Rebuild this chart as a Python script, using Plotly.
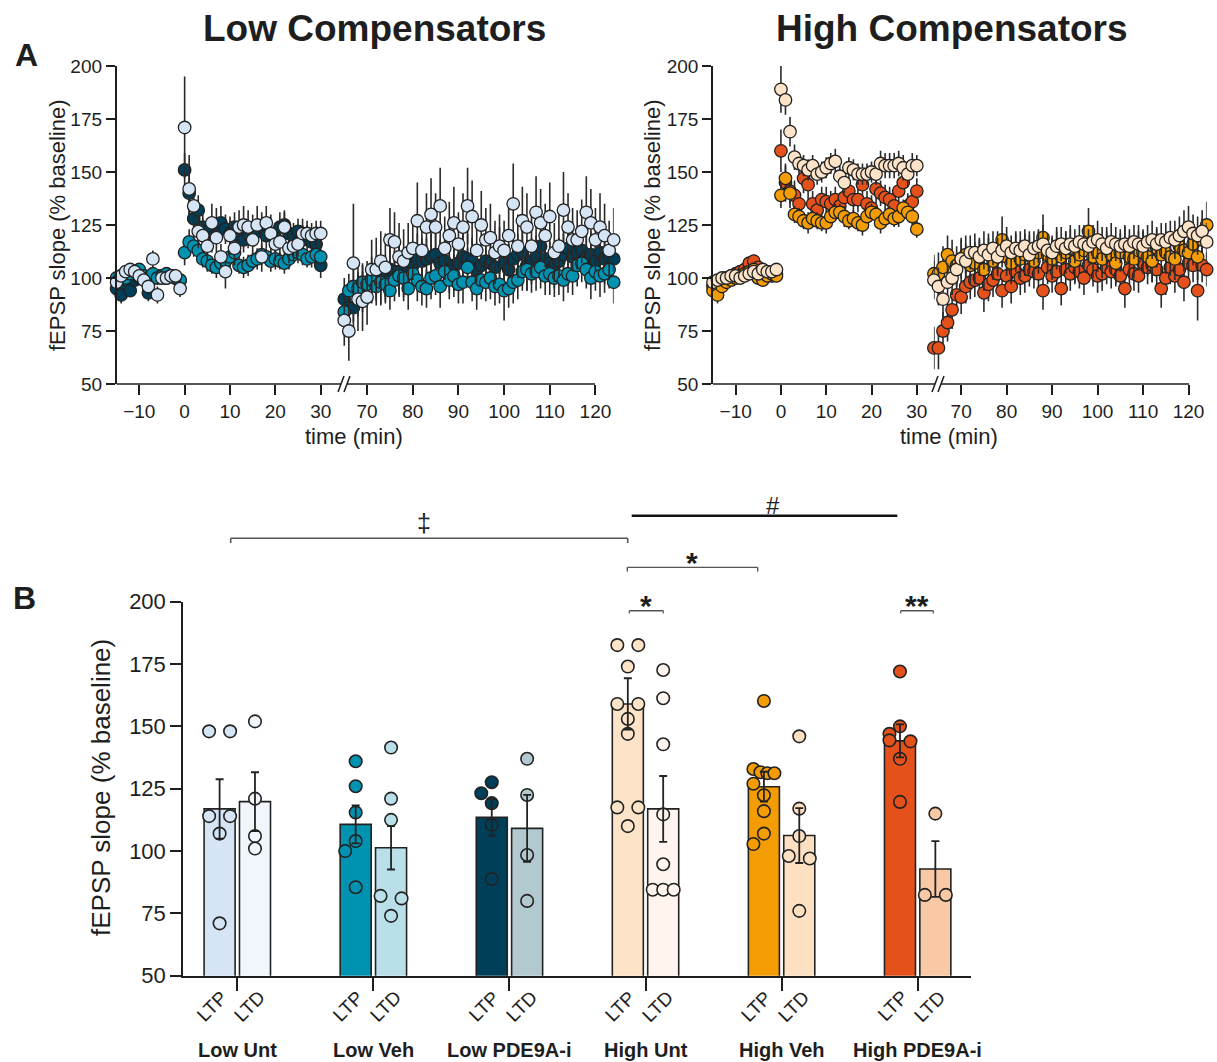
import plotly.graph_objects as go

W, H = 1217, 1062
def PX(x): return x / W
def PY(y): return 1 - y / H

FONT = "Liberation Sans, Arial, Helvetica, sans-serif"
INK = "#1e1e1e"

# ---------------- Panel A data (t = -15..30 'early', post-LFS 'late') ----------------
EARLY_START = -15
LEFT_LATE_START = 65
RIGHT_LATE_START = 64

low_unt_early = [98, 101, 103, 104, 103, 101, 99, 96, 109, 92, 100, 100, 101, 101, 95,
                 171, 142, 134, 122, 120, 115, 126, 119, 110, 103, 120, 114, 124, 125, 124, 118,
                 125, 110, 126, 121, 116, 117, 124, 114, 115, 116, 121, 121, 120, 121, 121]
low_unt_early_sem = [3, 3, 3, 3, 3, 3, 4, 4, 4, 4, 3, 3, 3, 3, 4,
                     24, 16, 10, 8, 8, 7, 9, 7, 6, 8, 9, 8, 8, 9, 8, 7,
                     9, 7, 8, 9, 8, 7, 8, 7, 7, 6, 7, 6, 6, 6, 6]
low_unt_late = [80, 75, 107, 90, 89, 91, 104, 104, 108, 105,
                118, 117, 110, 108, 112, 114, 127, 113, 124, 130,
                124, 134, 114, 120, 126, 116, 124, 134, 129, 113,
                125, 118, 119, 112, 115, 113, 120, 135, 115, 127,
                124, 115, 131, 126, 120, 129, 112, 115, 132, 124,
                118, 118, 122, 131, 126, 118, 124, 120, 113, 118]
low_unt_late_sem = [12, 14, 28, 15, 14, 13, 14, 15, 14, 16,
                    15, 14, 16, 15, 14, 15, 18, 15, 16, 17,
                    16, 18, 15, 16, 17, 15, 16, 18, 17, 15,
                    16, 15, 16, 15, 15, 14, 16, 19, 15, 16,
                    16, 15, 17, 16, 15, 16, 14, 15, 18, 16,
                    15, 14, 15, 17, 16, 15, 16, 15, 14, 15]

low_veh_early = [100, 101, 100, 102, 103, 104, 101, 100, 102, 100, 101, 102, 101, 100, 99,
                 112, 117, 115, 113, 109, 108, 106, 105, 107, 108, 110, 112, 106, 105, 106, 108,
                 109, 111, 110, 108, 109, 108, 107, 109, 111, 112, 111, 109, 110, 111, 110]
low_veh_early_sem = [2, 2, 3, 2, 2, 2, 3, 2, 2, 2, 3, 2, 2, 2, 2,
                     6, 6, 5, 5, 4, 5, 4, 5, 5, 4, 5, 5, 4, 5, 5, 4,
                     5, 5, 4, 5, 5, 4, 5, 5, 4, 5, 5, 4, 5, 5, 4]
low_veh_late = [84, 94, 96, 95, 98, 97, 99, 96, 98, 97,
                94, 99, 101, 100, 95, 102, 99, 96, 95, 100,
                101, 96, 103, 99, 101, 97, 98, 105, 98, 95,
                99, 98, 100, 96, 97, 94, 95, 98, 99, 103,
                104, 102, 103, 105, 101, 102, 100, 101, 99, 102,
                101, 106, 107, 104, 100, 103, 101, 102, 104, 98]
low_veh_late_sem = [9, 8, 9, 8, 9, 9, 8, 9, 10, 9,
                    9, 10, 9, 9, 10, 9, 10, 9, 9, 10,
                    9, 10, 9, 9, 10, 9, 10, 9, 9, 10,
                    9, 9, 10, 9, 9, 14, 9, 10, 9, 9,
                    10, 9, 9, 10, 9, 10, 9, 9, 10, 9,
                    9, 10, 9, 9, 10, 9, 10, 9, 9, 10]

low_pde_early = [95, 92, 97, 94, 99, 100, 101, 93, 100, 101, 101, 100, 101, 100, 99,
                 151, 140, 128, 132, 124, 122, 119, 125, 126, 123, 121, 124, 120, 118, 121, 123,
                 122, 124, 120, 121, 119, 124, 125, 121, 120, 122, 118, 119, 117, 116, 106]
low_pde_early_sem = [3, 4, 3, 3, 3, 3, 3, 4, 3, 3, 3, 3, 3, 3, 3,
                     8, 10, 8, 7, 7, 6, 7, 8, 8, 7, 6, 7, 7, 6, 7, 7,
                     6, 7, 6, 6, 7, 7, 6, 6, 6, 6, 7, 6, 6, 6, 6]
low_pde_late = [90, 86, 86, 92, 95, 98, 99, 100, 98, 101,
                104, 103, 103, 100, 104, 106, 109, 108, 109, 110,
                111, 107, 108, 104, 106, 107, 110, 109, 108, 104,
                106, 108, 107, 105, 113, 107, 104, 109, 111, 112,
                106, 108, 110, 115, 109, 107, 106, 108, 111, 114,
                110, 112, 113, 110, 111, 108, 112, 109, 110, 109]
low_pde_late_sem = [10, 11, 12, 10, 11, 10, 11, 10, 11, 10,
                    11, 10, 12, 11, 10, 11, 12, 11, 10, 11,
                    12, 11, 10, 11, 12, 10, 11, 12, 11, 10,
                    11, 12, 10, 11, 11, 10, 12, 11, 10, 11,
                    12, 11, 10, 11, 12, 10, 11, 11, 10, 12,
                    11, 10, 11, 12, 11, 10, 11, 12, 11, 10]

high_unt_early = [98, 99, 100, 100, 101, 101, 100, 101, 102, 103, 102, 104, 103, 103, 104,
                  189, 184, 169, 157, 154, 153, 151, 153, 149, 150, 152, 154, 155, 148, 145, 152,
                  151, 149, 149, 149, 150, 149, 154, 153, 153, 153, 154, 152, 149, 153, 153]
high_unt_early_sem = [3, 2, 2, 3, 2, 2, 3, 2, 2, 3, 2, 2, 3, 2, 2,
                      11, 7, 7, 6, 5, 5, 5, 5, 5, 5, 5, 5, 6, 5, 5, 5,
                      5, 5, 5, 5, 5, 5, 6, 6, 6, 6, 6, 6, 6, 6, 5]
high_unt_late = [99, 96, 90, 98, 100, 104, 109, 108, 112, 112,
                 110, 113, 111, 114, 110, 113, 115, 112, 114, 113,
                 115, 111, 114, 115, 116, 113, 112, 115, 116, 114,
                 116, 115, 117, 116, 115, 117, 118, 116, 114, 117,
                 116, 115, 116, 115, 117, 116, 115, 117, 118, 116,
                 118, 117, 119, 118, 120, 122, 124, 121, 120, 122, 117]
high_unt_late_sem = [9, 9, 10, 9, 8, 8, 9, 8, 8, 9,
                     8, 9, 8, 8, 9, 8, 9, 8, 8, 9,
                     8, 9, 8, 8, 9, 8, 8, 9, 8, 8,
                     9, 8, 8, 9, 8, 8, 9, 8, 8, 9,
                     8, 8, 9, 8, 8, 9, 8, 8, 9, 8,
                     8, 9, 8, 9, 9, 10, 10, 9, 9, 10, 9]

high_veh_early = [94, 92, 96, 98, 99, 100, 101, 102, 103, 104, 100, 99, 101, 102, 101,
                  139, 147, 140, 130, 129, 127, 126, 128, 127, 126, 126, 129, 131, 131, 129, 127,
                  128, 126, 125, 129, 131, 130, 126, 128, 130, 128, 129, 133, 131, 129, 123]
high_veh_early_sem = [3, 4, 3, 3, 3, 3, 3, 3, 3, 3, 3, 3, 3, 3, 3,
                      6, 6, 5, 4, 4, 4, 5, 4, 4, 4, 5, 4, 4, 4, 5, 4,
                      4, 4, 5, 4, 4, 4, 5, 4, 4, 4, 5, 4, 4, 4, 4]
high_veh_late = [102, 102, 105, 111, 108, 106, 109, 111, 106, 107,
                 110, 104, 112, 108, 112, 118, 110, 107, 112, 109,
                 111, 113, 108, 112, 119, 111, 109, 113, 110, 112,
                 114, 108, 111, 113, 122, 110, 112, 109, 114, 111,
                 107, 112, 115, 110, 109, 113, 112, 110, 108, 114,
                 111, 112, 110, 109, 115, 113, 112, 116, 110, 118, 125]
high_veh_late_sem = [9, 10, 10, 9, 10, 9, 10, 9, 9, 10,
                     9, 10, 9, 9, 10, 11, 9, 10, 9, 9,
                     10, 9, 9, 10, 11, 9, 10, 9, 9, 10,
                     9, 10, 9, 9, 11, 10, 9, 9, 10, 9,
                     10, 9, 9, 10, 9, 9, 10, 9, 10, 9,
                     9, 10, 9, 10, 9, 10, 9, 10, 11, 10, 11]

high_pde_early = [96, 97, 99, 100, 101, 102, 103, 104, 107, 108, 105, 101, 102, 101, 102,
                  160, 145, 141, 139, 135, 147, 144, 135, 132, 137, 136, 135, 137, 134, 138, 141,
                  137, 137, 144, 135, 133, 142, 140, 138, 137, 134, 141, 145, 134, 136, 141]
high_pde_early_sem = [3, 3, 3, 3, 3, 3, 3, 3, 3, 3, 3, 3, 3, 3, 3,
                      10, 9, 8, 7, 6, 7, 7, 6, 6, 6, 7, 6, 6, 6, 7, 6,
                      6, 6, 7, 6, 6, 7, 6, 6, 6, 7, 6, 6, 6, 6, 6]
high_pde_late = [67, 67, 75, 79, 85, 92, 91, 96, 98, 99,
                 100, 93, 97, 99, 102, 94, 101, 96, 103, 100,
                 101, 104, 103, 102, 94, 105, 101, 103, 95, 104,
                 102, 105, 103, 100, 106, 104, 101, 102, 105, 103,
                 104, 101, 95, 104, 102, 101, 107, 105, 106, 104,
                 95, 100, 105, 101, 104, 98, 107, 106, 94, 106, 104]
high_pde_late_sem = [10, 10, 9, 9, 9, 8, 8, 8, 8, 8,
                     8, 9, 8, 8, 8, 8, 8, 8, 8, 8,
                     8, 8, 8, 8, 9, 8, 8, 8, 8, 8,
                     8, 8, 8, 8, 8, 8, 8, 8, 8, 8,
                     8, 8, 9, 8, 8, 8, 8, 8, 8, 8,
                     9, 8, 8, 8, 8, 9, 8, 8, 14, 8, 8]

# ---------------- Panel B data ----------------
groups = ["Low Unt", "Low Veh", "Low PDE9A-i", "High Unt", "High Veh", "High PDE9A-i"]
conditions = ["LTP", "LTD"]
ltp_mean = [116.9, 110.7, 113.5, 159.0, 125.8, 144.2]
ltp_sem = [11.9, 7.6, 7.3, 10.3, 6.0, 6.6]
ltd_mean = [119.8, 101.3, 109.1, 116.9, 106.2, 92.8]
ltd_sem = [11.8, 8.7, 13.4, 13.2, 11.0, 11.2]
ltp_points = [
    [148, 148, 114, 114, 107, 71],
    [136, 126, 115.5, 104, 100, 85.5],
    [127.6, 123.2, 119.2, 110.5, 88.8],
    [182.6, 182.6, 174, 159, 159, 153, 147, 117.5, 117.5, 110],
    [160.2, 132.9, 131.6, 131.2, 131.2, 127, 122.4, 116, 107, 102.8],
    [172, 150, 147, 144.4, 144, 137, 119.7],
]
ltd_points = [
    [152, 121, 106, 101],
    [141.5, 121, 112.5, 82, 81, 74],
    [137, 122.5, 98.4, 80],
    [172.6, 161.3, 142.8, 114.7, 94.7, 84.5, 84.5, 84.5],
    [146, 117, 106, 98, 97, 76],
    [115, 82.4, 82.4],
]

# ---------------- styles ----------------
ltp_colors = ["#d5e5f5", "#0092b1", "#003f59", "#fde3c8", "#f39c04", "#e5511b"]
ltd_colors = ["#f1f6fc", "#b9e0e9", "#b2c9d0", "#fff5ee", "#fde0c2", "#f9c9a5"]

fig = go.Figure()

MK = dict(size=12.5, line=dict(color="#222222", width=1.3))
ERR = dict(type="data", thickness=1.6, width=0, color="#2a2a2a")

def tc_trace(t, v, s, color, xa, ya):
    fig.add_trace(go.Scatter(
        x=t, y=v, mode="markers", xaxis=xa, yaxis=ya, cliponaxis=False,
        marker=dict(color=color, **MK),
        error_y=dict(array=s, **ERR), showlegend=False, hoverinfo="skip"))

early_t = list(range(EARLY_START, EARLY_START + len(low_unt_early)))

left_series = [(low_pde_early, low_pde_early_sem, low_pde_late, low_pde_late_sem, ltp_colors[2]),
               (low_veh_early, low_veh_early_sem, low_veh_late, low_veh_late_sem, ltp_colors[1]),
               (low_unt_early, low_unt_early_sem, low_unt_late, low_unt_late_sem, ltp_colors[0])]
for e, es, l, ls, c in left_series:
    tc_trace(early_t, e, es, c, "x", "y")
    tc_trace(list(range(LEFT_LATE_START, LEFT_LATE_START + len(l))), l, ls, c, "x2", "y")

right_series = [(high_pde_early, high_pde_early_sem, high_pde_late, high_pde_late_sem, ltp_colors[5]),
                (high_veh_early, high_veh_early_sem, high_veh_late, high_veh_late_sem, ltp_colors[4]),
                (high_unt_early, high_unt_early_sem, high_unt_late, high_unt_late_sem, ltp_colors[3])]
for e, es, l, ls, c in right_series:
    tc_trace(early_t, e, es, c, "x3", "y2")
    tc_trace(list(range(RIGHT_LATE_START, RIGHT_LATE_START + len(l))), l, ls, c, "x4", "y2")

# ---------------- Panel B ----------------
BAR_OFF = 0.13
BAR_W = 0.228
PXU_Y = 2.4933   # px per % on panel B
PXU_X = 136.08   # px per group unit

def swarm(vals, step=10.5, diam=12.0):
    order = sorted(range(len(vals)), key=lambda i: -vals[i])
    rows = []
    for i in order:
        if rows and (vals[rows[-1][0]] - vals[i]) * PXU_Y < 5:
            rows[-1].append(i)
        else:
            rows.append([i])
    offs = [0.0] * len(vals)
    placed = []
    for row in rows:
        n = len(row)
        if n > 1:
            for k, i in enumerate(row):
                offs[i] = -step + 2 * step * k / (n - 1)
                placed.append((offs[i], vals[i] * PXU_Y))
        else:
            i = row[0]
            c = 0.0
            for c in [0.0, -step, step, -2 * step, 2 * step]:
                if all((c - ox) ** 2 + (vals[i] * PXU_Y - oy) ** 2 >= diam ** 2 for ox, oy in placed):
                    break
            offs[i] = c
            placed.append((c, vals[i] * PXU_Y))
    return [o / PXU_X for o in offs]

gx = list(range(len(groups)))
ltp_x = [g - BAR_OFF for g in gx]
ltd_x = [g + BAR_OFF for g in gx]

BAR_LINE = dict(color="#222222", width=1.6)
fig.add_trace(go.Bar(x=ltp_x, y=ltp_mean, width=BAR_W, xaxis="x5", yaxis="y3",
                     marker=dict(color=ltp_colors, line=BAR_LINE), showlegend=False, hoverinfo="skip"))
fig.add_trace(go.Bar(x=ltd_x, y=ltd_mean, width=BAR_W, xaxis="x5", yaxis="y3",
                     marker=dict(color=ltd_colors, line=BAR_LINE), showlegend=False, hoverinfo="skip"))

PMK = dict(size=12.5, line=dict(color="#222222", width=1.6))
for gi in gx:
    for xs, pts, col in [(ltp_x[gi], ltp_points[gi], ltp_colors[gi]),
                         (ltd_x[gi], ltd_points[gi], ltd_colors[gi])]:
        offs = swarm(pts)
        fig.add_trace(go.Scatter(x=[xs + o for o in offs], y=pts, mode="markers",
                                 xaxis="x5", yaxis="y3", cliponaxis=False,
                                 marker=dict(color=col, **PMK), showlegend=False, hoverinfo="skip"))

BERR = dict(type="data", thickness=1.8, width=4, color="#222222")
fig.add_trace(go.Scatter(x=ltp_x + ltd_x, y=ltp_mean + ltd_mean, mode="markers",
                         xaxis="x5", yaxis="y3", cliponaxis=False,
                         marker=dict(size=1, opacity=0),
                         error_y=dict(array=ltp_sem + ltd_sem, **BERR),
                         showlegend=False, hoverinfo="skip"))

# ---------------- axes ----------------
TICKF = dict(family=FONT, size=19, color=INK)
yt = [50, 75, 100, 125, 150, 175, 200]
common_y = dict(range=[50, 200], tickvals=yt, ticks="outside", ticklen=9, tickwidth=1.5,
                tickcolor=INK, showline=True, linecolor=INK, linewidth=1.5, showgrid=False,
                zeroline=False, tickfont=TICKF, automargin=False)
common_x = dict(ticks="outside", ticklen=10, tickwidth=1.5, tickcolor=INK, showline=False,
                showgrid=False, zeroline=False, tickfont=TICKF, automargin=False)

fig.update_layout(
    width=W, height=H, margin=dict(l=0, r=0, t=0, b=0, pad=0, autoexpand=False),
    paper_bgcolor="white", plot_bgcolor="rgba(0,0,0,0)",
    font=dict(family=FONT, color=INK), barmode="overlay",
    xaxis=dict(domain=[PX(116.6), PX(334.3)], range=[-15, 33], tickvals=[-10, 0, 10, 20, 30],
               anchor="y", **common_x),
    xaxis2=dict(domain=[PX(339.7), PX(613.7)], range=[64, 124], tickvals=[70, 80, 90, 100, 110, 120],
                anchor="y", **common_x),
    yaxis=dict(domain=[PY(384), PY(66)], anchor="x", **common_y),
    xaxis3=dict(domain=[PX(713), PX(930.4)], range=[-15, 33], tickvals=[-10, 0, 10, 20, 30],
                anchor="y2", **common_x),
    xaxis4=dict(domain=[PX(933.9), PX(1206.7)], range=[64, 124], tickvals=[70, 80, 90, 100, 110, 120],
                anchor="y2", **common_x),
    yaxis2=dict(domain=[PY(384), PY(66)], anchor="x3", **common_y),
    xaxis5=dict(domain=[PX(183), PX(971)], range=[-0.399, 5.392], tickvals=gx, showticklabels=False,
                ticks="outside", ticklen=14, tickwidth=1.5, tickcolor=INK, showline=True,
                linecolor=INK, linewidth=1.5, showgrid=False, zeroline=False, anchor="y3",
                automargin=False),
    yaxis3=dict(domain=[PY(975.7), PY(601.7)], anchor="x5",
                **{**common_y, "tickfont": dict(family=FONT, size=22, color=INK), "ticklen": 11}),
)

shapes = []
def pline(x0, y0, x1, y1, w=1.5, color=INK):
    shapes.append(dict(type="line", xref="paper", yref="paper", x0=PX(x0), y0=PY(y0),
                       x1=PX(x1), y1=PY(y1), line=dict(color=color, width=w)))

# x-axis lines with breaks
pline(116.6, 384, 341, 384)
pline(347, 384, 595, 384)
pline(338, 392, 344, 376); pline(344, 392, 350, 376)
pline(713, 384, 935, 384)
pline(941, 384, 1189, 384)
pline(932, 392, 938, 376); pline(938, 392, 944, 376)

# significance brackets
GR = "#555555"
pline(230.7, 538.3, 627.7, 538.3, 1.4, GR); pline(230.7, 538.3, 230.7, 543, 1.6, GR); pline(627.7, 538.3, 627.7, 543, 1.6, GR)
pline(631.7, 515.7, 897.3, 515.7, 2.6, "#111111")
pline(627.3, 567.3, 757.7, 567.3, 1.3, GR); pline(627.3, 567.3, 627.3, 571.5, 1.4, GR); pline(757.7, 567.3, 757.7, 571.5, 1.4, GR)
pline(629.3, 610.7, 663.3, 610.7, 1.5, GR); pline(629.3, 610.7, 629.3, 613.5, 1.2, GR); pline(663.3, 610.7, 663.3, 613.5, 1.2, GR)
pline(900.7, 610.7, 933.3, 610.7, 1.5, GR); pline(900.7, 610.7, 900.7, 613.5, 1.2, GR); pline(933.3, 610.7, 933.3, 613.5, 1.2, GR)

fig.update_layout(shapes=shapes)

ann = []
def text(x, y, s, size, bold=False, angle=0, xa="center", ya="middle", color=INK):
    ann.append(dict(x=PX(x), y=PY(y), xref="paper", yref="paper", text=("<b>%s</b>" % s) if bold else s,
                    showarrow=False, textangle=angle, xanchor=xa, yanchor=ya,
                    font=dict(family=FONT, size=size, color=color)))

text(374, 28, "Low Compensators", 37, bold=True)
text(952, 28, "High Compensators", 37, bold=True)
text(26, 55, "A", 32, bold=True)
text(24, 598, "B", 32, bold=True)
text(57, 225, "fEPSP slope (% baseline)", 22, angle=-90)
text(652, 225, "fEPSP slope (% baseline)", 22, angle=-90)
text(354, 437, "time (min)", 22)
text(949, 437, "time (min)", 22)
text(101, 788, "fEPSP slope (% baseline)", 26, angle=-90)

x0px, gsp = 237.3, 136.08
for gi, gname in enumerate(groups):
    cx = x0px + gi * gsp
    text(cx, 1050, gname, 20, bold=True)
    text(cx - BAR_OFF * gsp - 8, 1006, conditions[0], 19, angle=-45)
    text(cx + BAR_OFF * gsp - 6, 1006, conditions[1], 19, angle=-45)

text(424, 507, "‡", 25, ya="top")
text(772.7, 490, "#", 24, ya="top")
text(691.7, 544, "*", 30, bold=True, ya="top")
text(646, 587, "*", 30, bold=True, ya="top")
text(917, 587, "**", 30, bold=True, ya="top")

fig.update_layout(annotations=ann)
fig.write_html("out.html")
